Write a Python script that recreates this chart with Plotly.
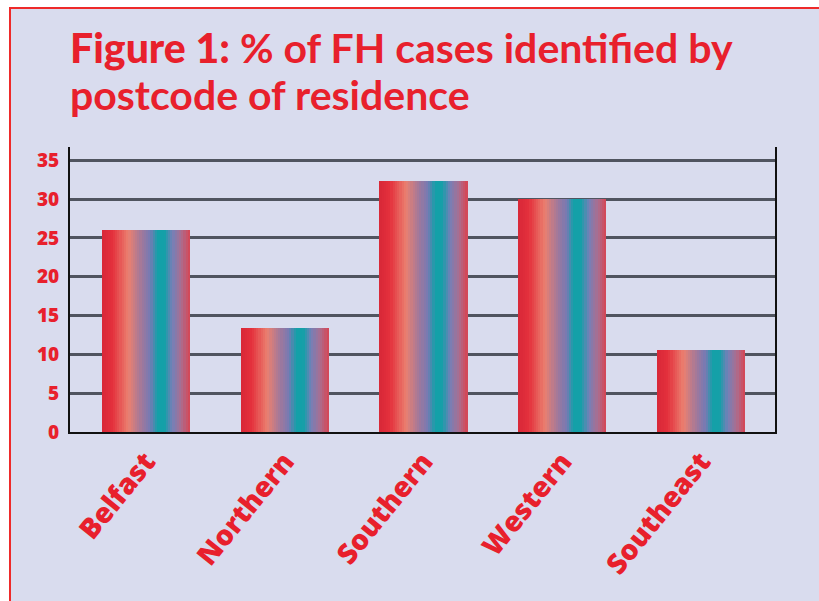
import plotly.graph_objects as go

categories = ["Belfast", "Northern", "Southern", "Western", "Southeast"]
values = [26.0, 13.4, 32.3, 30.0, 10.5]
y_ticks = [0, 5, 10, 15, 20, 25, 30, 35]
title_lines = ['<span style="font-weight:900">Figure 1:</span> % of FH cases identified by',
               "postcode of residence"]

RED = "#e8202c"
BG = "#d9dcee"

# gradient stops across each bar's width
stops = [
    (0.00, (216, 40, 56)),
    (0.12, (228, 48, 60)),
    (0.30, (234, 128, 112)),
    (0.45, (160, 120, 156)),
    (0.55, (116, 122, 180)),
    (0.63, (20, 160, 168)),
    (0.71, (20, 160, 168)),
    (0.80, (116, 128, 184)),
    (0.90, (170, 110, 144)),
    (1.00, (216, 68, 82)),
]


def color_at(t):
    for (p0, c0), (p1, c1) in zip(stops[:-1], stops[1:]):
        if p0 <= t <= p1:
            f = (t - p0) / (p1 - p0) if p1 > p0 else 0
            c = [round(a + (b - a) * f) for a, b in zip(c0, c1)]
            return "rgb(%d,%d,%d)" % tuple(c)
    return "rgb(%d,%d,%d)" % stops[-1][1]


W = 0.635
N = 40
fig = go.Figure()
for i in range(N):
    sw = W / N
    fig.add_trace(go.Bar(
        x=categories, y=values,
        offset=-W / 2 + i * sw, width=sw * 1.15 if i < N - 1 else sw,
        marker=dict(color=color_at((i + 0.5) / N), line=dict(width=0)),
        showlegend=False, hoverinfo="skip",
    ))

L, R, T, B = 70, 44, 147, 169
pw, ph = 819 - L - R, 601 - T - B
y_bottom_px = 601 - B


def py(p):
    return (y_bottom_px - p) / ph


def px(p):
    return (p - L) / pw


fig.add_shape(type="rect", xref="paper", yref="paper", layer="below",
              x0=px(10), x1=px(840), y0=py(620), y1=py(8),
              fillcolor=BG, line=dict(color="#ee2a2a", width=2))

for k, (txt, top) in enumerate(zip(title_lines, [21, 68])):
    fig.add_annotation(
        text=txt, xref="paper", yref="paper", x=px(68), y=py(top),
        xanchor="left", yanchor="top", showarrow=False,
        font=dict(family="Lato", size=41, color=RED, weight=700),
    )

fig.update_layout(
    width=819, height=601,
    margin=dict(l=L, r=R, t=T, b=B),
    paper_bgcolor="white", plot_bgcolor=BG,
    barmode="overlay", bargap=0,
    font=dict(family="Open Sans", color=RED),
    xaxis=dict(
        range=[-0.547, 4.532], showgrid=False, showline=True,
        linecolor="#111", linewidth=2, ticks="", tickangle=-51,
        tickfont=dict(family="Open Sans", size=28, color=RED, weight=800),
        fixedrange=True,
    ),
    yaxis=dict(
        range=[0, 36.7], tickvals=y_ticks, showgrid=True,
        gridcolor="#50545f", gridwidth=2.5, showline=True, mirror=True,
        linecolor="#111", linewidth=2, ticks="", ticklabelstandoff=5,
        tickfont=dict(family="Open Sans", size=19, color=RED, weight=800),
        zeroline=False, fixedrange=True,
    ),
)

fig.write_html("out.html", config={"displayModeBar": False},
               post_script="document.body.style.margin='0';")
